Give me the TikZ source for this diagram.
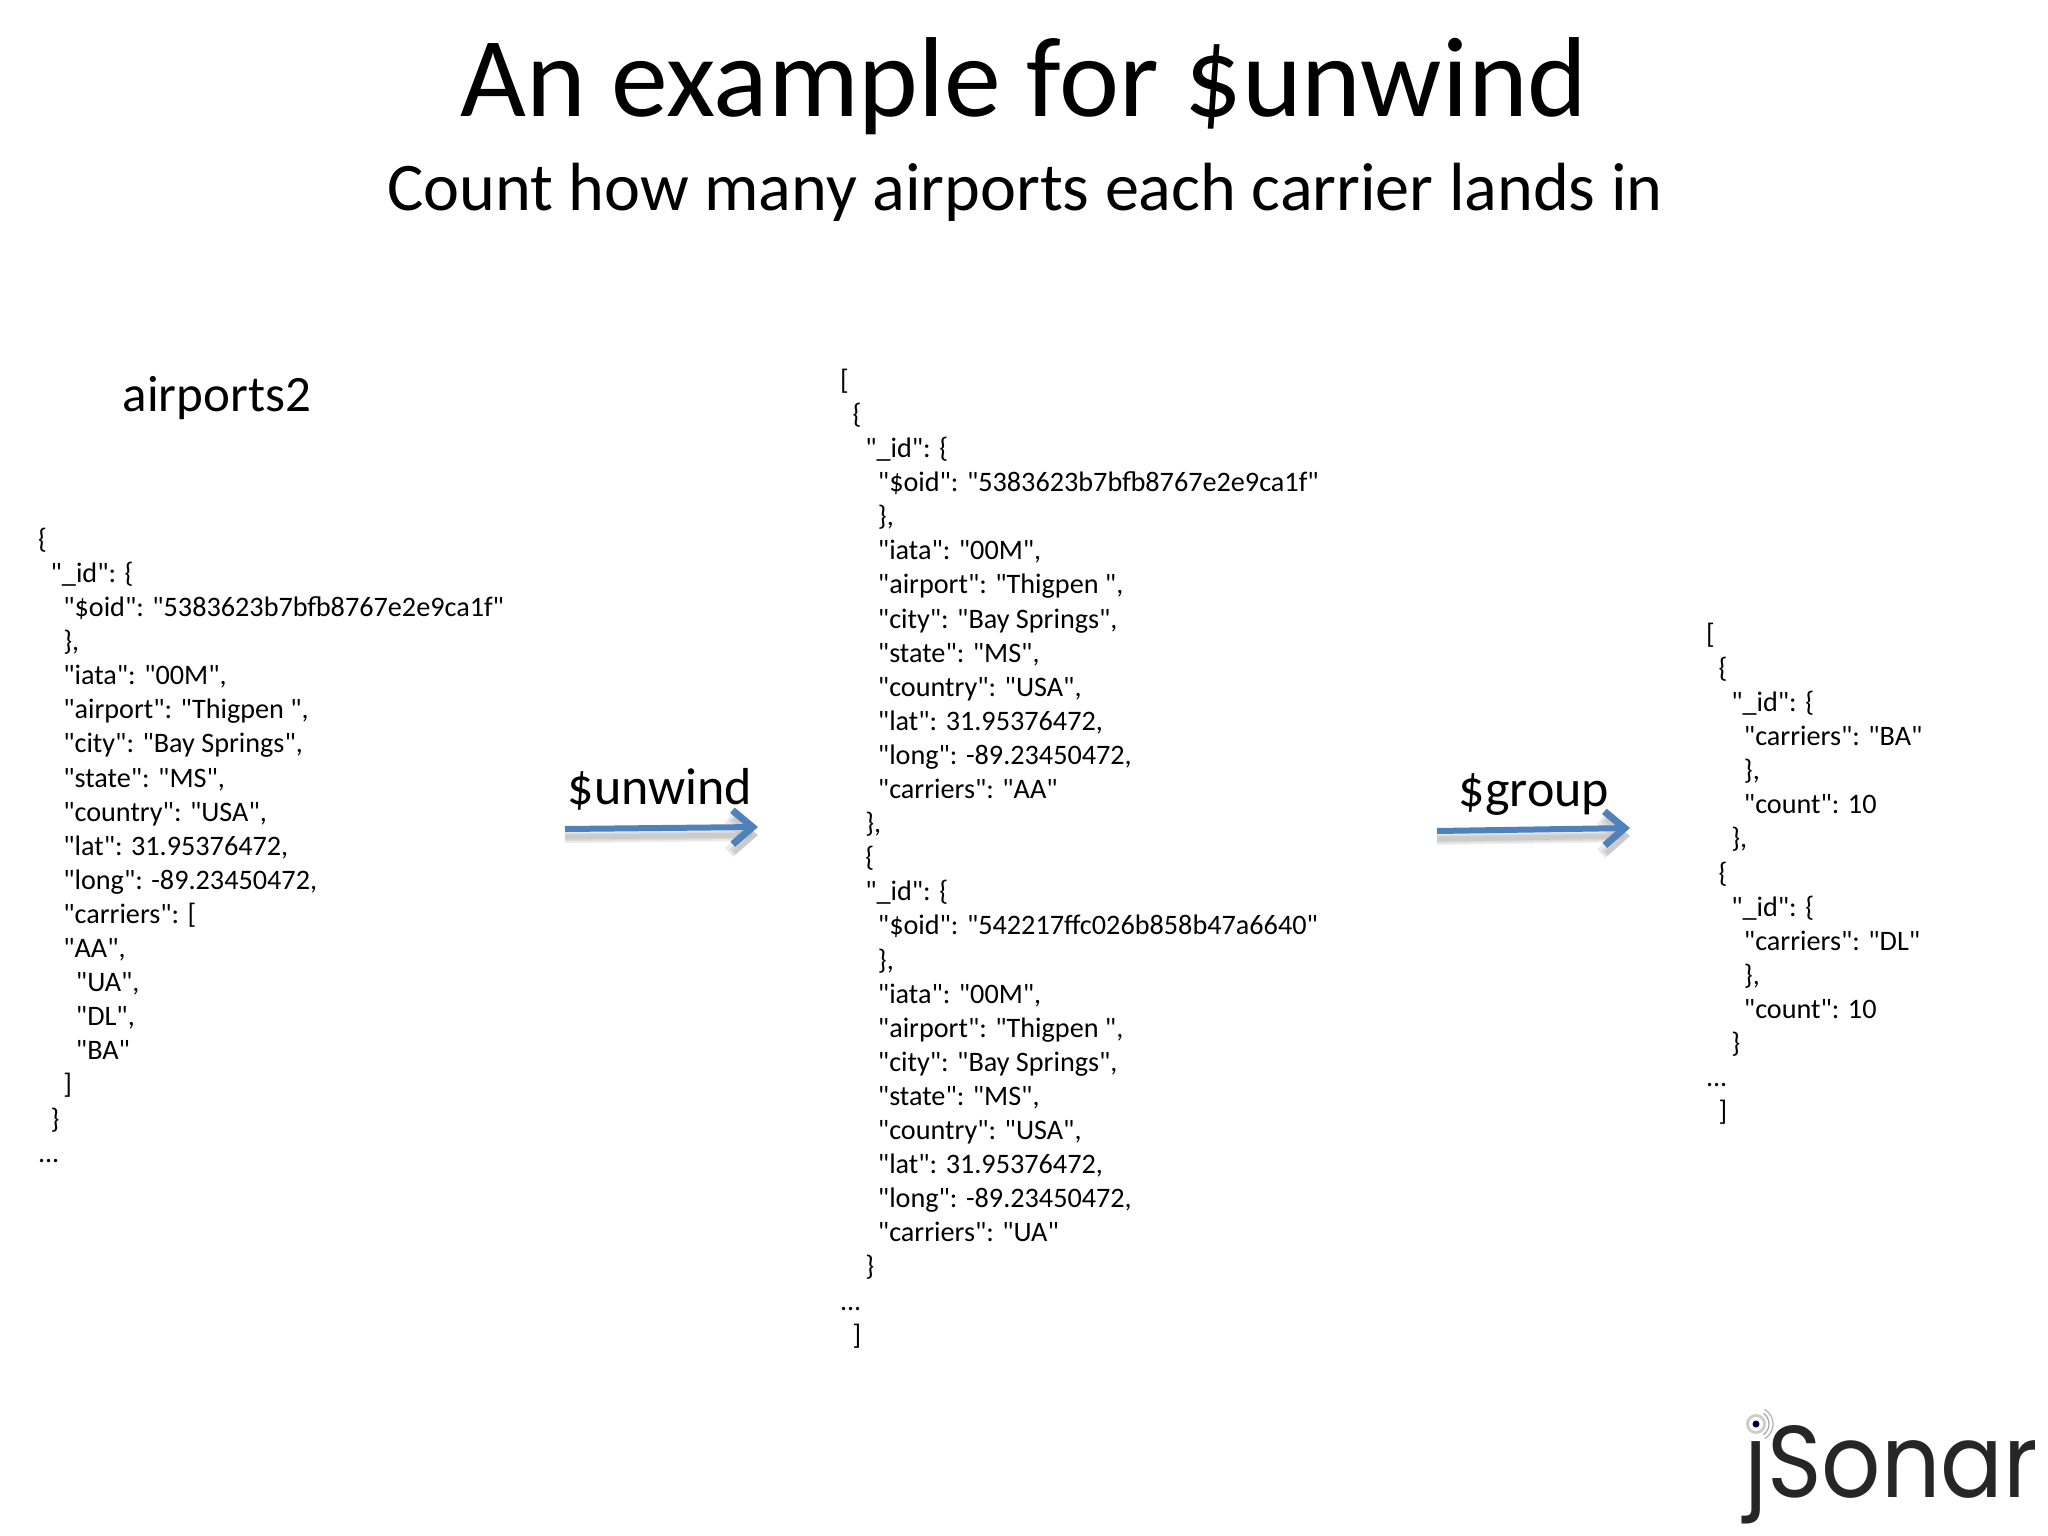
\documentclass[tikz,border=0pt]{standalone}
\usepackage{fontspec}
\newfontfamily\carlito{Carlito}
\newfontfamily\logofont{Poppins}
\usetikzlibrary{arrows.meta}
\definecolor{flowblue}{HTML}{4F81BD}
\newcommand{\ind}[1]{\hspace*{\dimexpr #1\dimexpr 12.65pt\relax\relax}}
\tikzset{
  x=1pt,y=-1pt,
  jsonblock/.style={anchor=north west,align=left,inner sep=0pt,outer sep=0pt,font=\carlito\fontsize{28.2}{34.1}\selectfont},
  heading/.style={anchor=base,inner sep=0pt,outer sep=0pt},
  flow/.style={draw=flowblue,line width=6pt,-{Straight Barb[length=20pt,width=34pt,line width=7pt]}},
  flowshadow/.style={draw=gray,opacity=0.16,line width=#1,-{Straight Barb[length=20pt,width=34pt,line width=#1]}},
}
\begin{document}
\begin{tikzpicture}
\useasboundingbox (0,0) rectangle (2048,1536);
\node[heading,font=\carlito\fontsize{113.7}{120}\selectfont] (title) at (1024,117) {An example for \$unwind};
\node[heading,font=\carlito\fontsize{68.2}{74}\selectfont] (subtitle) at (1025,210) {Count how many airports each carrier lands in};
\node[heading,font=\carlito\fontsize{51}{56}\selectfont] (coll) at (217,411) {airports2};
\node[jsonblock] (src) at (38,528) {%
\{\\
\ind{1}"\_id": \{\\
\ind{2}"\$oid": "5383623b7bfb8767e2e9ca1f"\\
\ind{2}\},\\
\ind{2}"iata": "00M",\\
\ind{2}"airport": "Thigpen ",\\
\ind{2}"city": "Bay Springs",\\
\ind{2}"state": "MS",\\
\ind{2}"country": "USA",\\
\ind{2}"lat": 31.95376472,\\
\ind{2}"long": -89.23450472,\\
\ind{2}"carriers": [\\
\ind{2}"AA",\\
\ind{3}"UA",\\
\ind{3}"DL",\\
\ind{3}"BA"\\
\ind{2}]\\
\ind{1}\}\\
...};
\node[jsonblock] (mid) at (840,369) {%
[\\
\ind{1}\{\\
\ind{2}"\_id": \{\\
\ind{3}"\$oid": "5383623b7bfb8767e2e9ca1f"\\
\ind{3}\},\\
\ind{3}"iata": "00M",\\
\ind{3}"airport": "Thigpen ",\\
\ind{3}"city": "Bay Springs",\\
\ind{3}"state": "MS",\\
\ind{3}"country": "USA",\\
\ind{3}"lat": 31.95376472,\\
\ind{3}"long": -89.23450472,\\
\ind{3}"carriers": "AA"\\
\ind{2}\},\\
\ind{2}\{\\
\ind{2}"\_id": \{\\
\ind{3}"\$oid": "542217ffc026b858b47a6640"\\
\ind{3}\},\\
\ind{3}"iata": "00M",\\
\ind{3}"airport": "Thigpen ",\\
\ind{3}"city": "Bay Springs",\\
\ind{3}"state": "MS",\\
\ind{3}"country": "USA",\\
\ind{3}"lat": 31.95376472,\\
\ind{3}"long": -89.23450472,\\
\ind{3}"carriers": "UA"\\
\ind{2}\}\\
...\\
\ind{1}]};
\node[jsonblock] (res) at (1706,623) {%
[\\
\ind{1}\{\\
\ind{2}"\_id": \{\\
\ind{3}"carriers": "BA"\\
\ind{3}\},\\
\ind{3}"count": 10\\
\ind{2}\},\\
\ind{1}\{\\
\ind{2}"\_id": \{\\
\ind{3}"carriers": "DL"\\
\ind{3}\},\\
\ind{3}"count": 10\\
\ind{2}\}\\
...\\
\ind{1}]};
\node[heading,font=\carlito\fontsize{52}{58}\selectfont] (unwind) at (660,804) {\$unwind};
\node[heading,font=\carlito\fontsize{52}{58}\selectfont] (group) at (1534,806) {\$group};
\coordinate (u1) at (565,829);
\coordinate (u2) at (758,827);
\coordinate (g1) at (1437,831);
\coordinate (g2) at (1630,828);
\foreach \w in {12pt,8pt,5pt}{
  \draw[flowshadow=\w] ([yshift=-8pt]u1.center) -- ([yshift=-8pt]u2.center);
  \draw[flowshadow=\w] ([yshift=-8pt]g1.center) -- ([yshift=-8pt]g2.center);
}
\draw[flow] (u1) -- (u2);
\draw[flow] (g1) -- (g2);
% logo
\node[anchor=base west,inner sep=0pt,font=\logofont\fontsize{102}{110}\selectfont,text=black!85,xscale=0.91,transform shape] (logo) at (1744,1497) {jSonar};
\coordinate (dot) at (1756,1424);
\fill[white] (dot) circle (13pt);
\fill[black!20] (dot) circle (10pt);
\fill[white] (dot) circle (7pt);
\fill[black!75!blue] (dot) circle (3.5pt);
\draw[black!35,line width=1.2pt] ([shift={(-55:13pt)}]dot) arc[start angle=-55,end angle=55,radius=13pt];
\draw[black!30,line width=1.2pt] ([shift={(-60:17pt)}]dot) arc[start angle=-60,end angle=60,radius=17pt];
\end{tikzpicture}
\end{document}
